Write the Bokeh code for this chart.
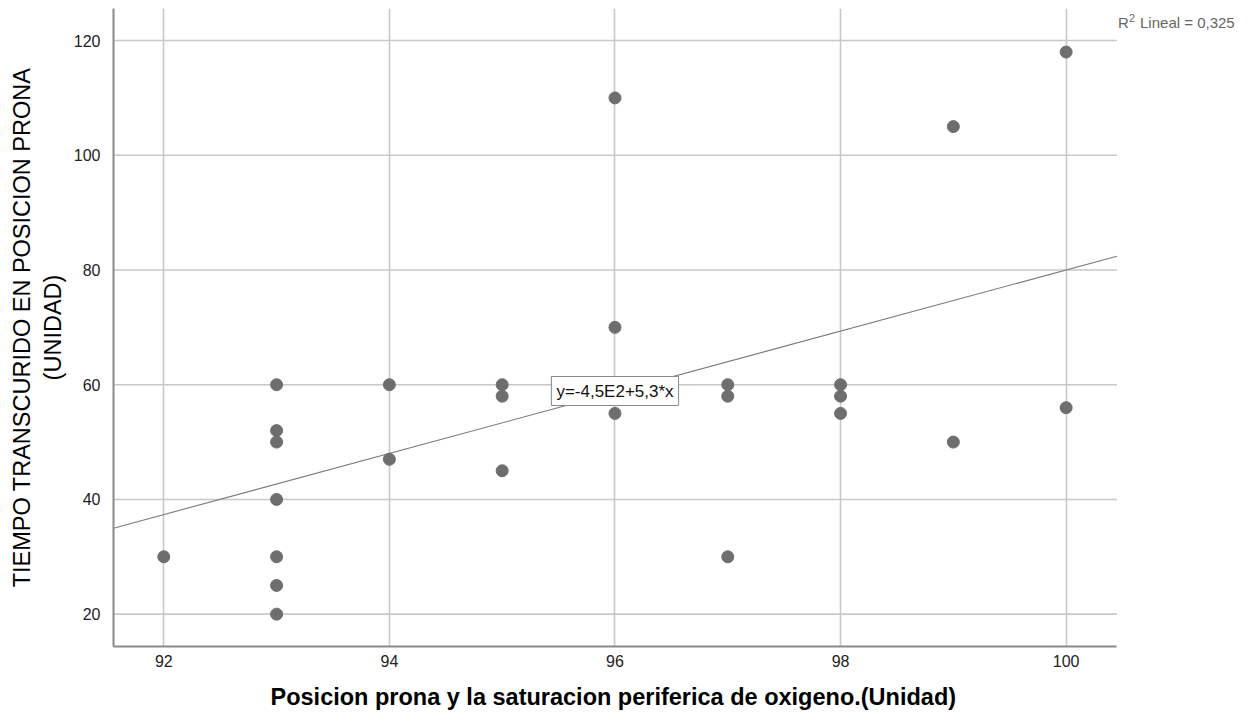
from bokeh.plotting import figure
from bokeh.models import FixedTicker, Label, Title
from bokeh.embed import file_html
from bokeh.resources import INLINE

# --- data ---
sat_x = [92, 93, 93, 93, 93, 93, 93, 93, 94, 94, 95, 95, 95,
         96, 96, 96, 97, 97, 97, 98, 98, 98, 99, 99, 100, 100]
time_y = [30, 60, 52, 50, 40, 30, 25, 20, 60, 47, 60, 58, 45,
          110, 70, 55, 60, 58, 30, 60, 58, 55, 105, 50, 118, 56]
x_ticks = [92, 94, 96, 98, 100]
y_ticks = [20, 40, 60, 80, 100, 120]
fit_intercept = -453.0
fit_slope = 5.33
eq_text = "y=-4,5E2+5,3*x"
r2_text = "Lineal = 0,325"
x_title = "Posicion prona y la saturacion periferica de oxigeno.(Unidad)"
y_title = "TIEMPO TRANSCURIDO EN POSICION PRONA\n(UNIDAD)"

# axis extent of the scatter area, and the extra space to its right
x_lo, x_hi = 91.554, 100.45
x_frame_hi = 101.67
y_lo, y_hi = 14.36, 125.59

p = figure(width=1254, height=721, x_range=(x_lo, x_frame_hi), y_range=(y_lo, y_hi),
           output_backend="svg", toolbar_location=None,
           min_border_left=113, min_border_right=0,
           min_border_top=8, min_border_bottom=75)
p.outline_line_color = None
p.background_fill_color = "white"

grid_color = "#c8c8c8"
grid_width = 1.6

# vertical grid from the library, horizontal grid limited to the scatter area
p.xaxis.ticker = FixedTicker(ticks=x_ticks)
p.yaxis.ticker = FixedTicker(ticks=y_ticks)
p.xgrid.grid_line_color = grid_color
p.xgrid.grid_line_width = grid_width
p.ygrid.grid_line_color = None
p.segment(x0=[x_lo] * len(y_ticks), y0=y_ticks, x1=[x_hi] * len(y_ticks), y1=y_ticks,
          line_color=grid_color, line_width=grid_width)

# axes
p.xaxis.bounds = (x_lo, x_hi)
for ax in (p.xaxis, p.yaxis):
    ax.axis_line_color = "#8a8a8a"
    ax.axis_line_width = 2
    ax.major_tick_line_color = None
    ax.minor_tick_line_color = None
    ax.major_label_text_font = "Liberation Sans"
    ax.major_label_text_font_size = "16px"
    ax.major_label_text_color = "#222222"
    ax.axis_label_text_font = "Liberation Sans"
    ax.axis_label_text_font_size = "23.5px"
    ax.axis_label_text_color = "#000000"

p.xaxis.major_label_standoff = 2

p.yaxis.axis_label = y_title
p.yaxis.axis_label_text_font_style = "normal"
p.yaxis.major_label_standoff = 7
p.yaxis.axis_label_standoff = 5

# x axis title, centred under the scatter area (not the full frame)
p.add_layout(Title(text=x_title, align="left", offset=157, standoff=24,
                   text_font="Liberation Sans", text_font_size="23.5px",
                   text_font_style="bold", text_color="#000000"), "below")

# fit line
fx = [x_lo, x_hi]
fy = [fit_intercept + fit_slope * v for v in fx]
p.line(fx, fy, line_color="#7a7a7a", line_width=1.1)

# points
p.scatter(sat_x, time_y, size=12, fill_color="#6e6e6e", line_color="#6e6e6e")

# equation label
p.add_layout(Label(x=96.0, y=58.9, text=eq_text, text_align="center",
                   text_baseline="middle", text_font="Liberation Sans",
                   text_font_size="17px", text_color="#111111",
                   background_fill_color="white", border_line_color="#8a8a8a",
                   border_line_width=1, padding=5))

# R^2 label
r2_x, r2_y = 100.46, 123.1
p.add_layout(Label(x=r2_x, y=r2_y, text="R", text_align="left",
                   text_baseline="middle", text_font="Liberation Sans",
                   text_font_size="15px", text_color="#666666"))
p.add_layout(Label(x=r2_x, y=r2_y, x_offset=11, y_offset=5, text="2",
                   text_align="left", text_baseline="middle",
                   text_font="Liberation Sans", text_font_size="11px",
                   text_color="#666666"))
p.add_layout(Label(x=r2_x, y=r2_y, x_offset=22, text=r2_text,
                   text_align="left", text_baseline="middle",
                   text_font="Liberation Sans", text_font_size="15px",
                   text_color="#666666"))

open("out.html", "w").write(file_html(p, INLINE))
